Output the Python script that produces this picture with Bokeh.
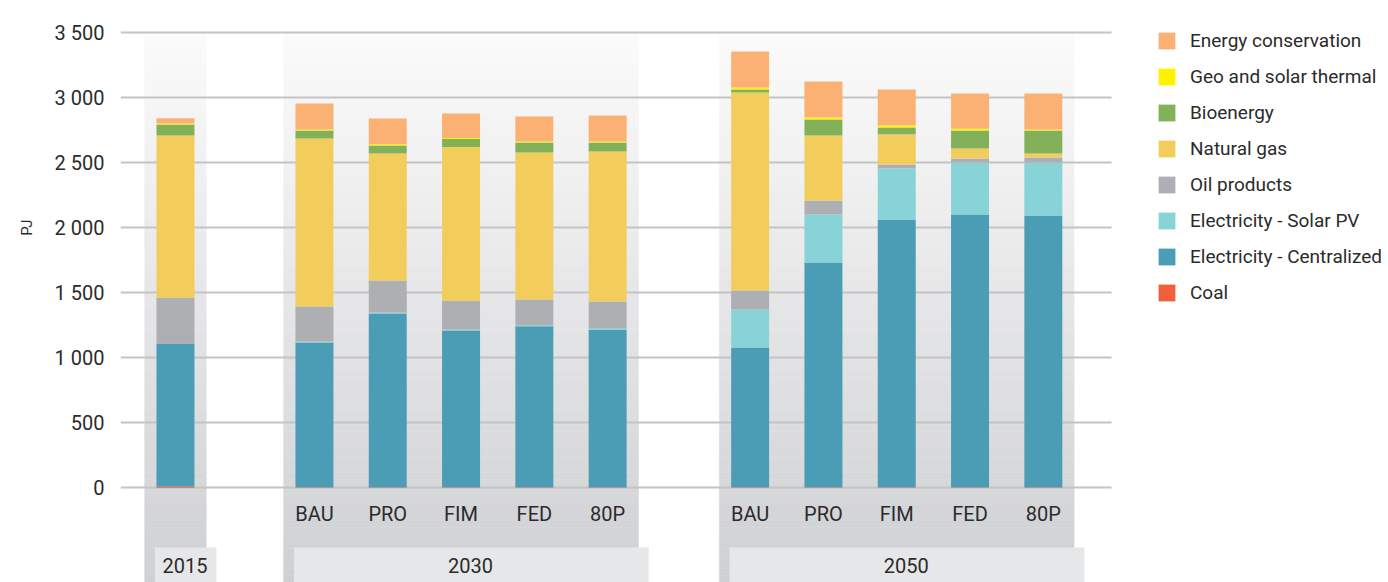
import numpy as np
from bokeh.plotting import figure
from bokeh.models import Range1d, FixedTicker, Legend, LegendItem, Title, ColumnDataSource
from bokeh.embed import file_html
from bokeh.resources import INLINE
from bokeh.core.properties import value

# ---------------- data ----------------
groups = ["2015", "2030", "2050"]
scenarios = ["BAU", "PRO", "FIM", "FED", "80P"]
cat_group = ["2015"] + ["2030"] * 5 + ["2050"] * 5
cat_label = [""] + scenarios + scenarios

coal = [10, 5, 4, 4, 4, 4, 4, 4, 4, 4, 4]
elec_central = [1100, 1112, 1336, 1205, 1238, 1211, 1074, 1728, 2058, 2097, 2089]
solar_pv = [0, 8, 8, 8, 8, 13, 292, 369, 392, 399, 407]
oil = [351, 269, 245, 223, 197, 204, 147, 107, 31, 31, 39]
gas = [1248, 1291, 977, 1179, 1131, 1153, 1522, 501, 232, 77, 31]
bio = [84, 61, 61, 62, 77, 70, 23, 122, 53, 138, 176]
geo = [7, 8, 10, 8, 8, 8, 15, 15, 15, 15, 8]
conservation = [40, 200, 198, 188, 191, 199, 277, 277, 277, 270, 277]

series_names = ["Coal", "Electricity - Centralized", "Electricity - Solar PV", "Oil products",
                "Natural gas", "Bioenergy", "Geo and solar thermal", "Energy conservation"]
series_keys = ["coal", "elec_central", "solar_pv", "oil", "gas", "bio", "geo", "conservation"]
series_colors = ["#f15f3c", "#4a9db4", "#88d3d8", "#aeafb2", "#f2cd5c", "#82b15a", "#fff200", "#fbb174"]

y_ticks = [0, 500, 1000, 1500, 2000, 2500, 3000, 3500]

# ---------------- layout helpers ----------------
group_start = {"2015": 0.0, "2030": 1.896, "2050": 7.84}
idx_in_group = []
counter = {}
for g in cat_group:
    counter[g] = counter.get(g, -1) + 1
    idx_in_group.append(counter[g])
xpos = [group_start[g] + i for g, i in zip(cat_group, idx_in_group)]

YMIN, YMAX = -728, 3746
XMIN, XMAX = -0.75, 16.549
GRID_END = 12.77
TXT = "#2b2b2b"
FONT = "Roboto"

p = figure(width=1388, height=582, output_backend="svg", toolbar_location=None,
           x_range=Range1d(XMIN, XMAX), y_range=Range1d(YMIN, YMAX),
           min_border_left=120, min_border_right=0, min_border_top=0, min_border_bottom=0,
           outline_line_color=None, background_fill_color="white", border_fill_color="white")

# background gradient panels
n_bands = 80
edges = np.linspace(3500, YMIN, n_bands + 1)
top_rgb = np.array([251, 251, 251])
bot_rgb = np.array([207, 208, 211])
for g in groups:
    gx = [x for x, cg in zip(xpos, cat_group) if cg == g]
    left, right = min(gx) - 0.42, max(gx) + 0.42
    cols = []
    for k in range(n_bands):
        f = k / (n_bands - 1)
        c = (top_rgb + (bot_rgb - top_rgb) * f).round().astype(int)
        cols.append("#%02x%02x%02x" % tuple(c))
    p.quad(left=[left] * n_bands, right=[right] * n_bands, top=edges[:-1], bottom=edges[1:],
           fill_color=cols, line_color=cols, line_width=0.5, level="image")
    # year label box
    p.quad(left=[left + 0.14], right=[right + 0.14], top=[-459], bottom=[YMIN],
           fill_color="#e6e7e8", line_color=None, level="image")
    p.text(x=[(left + right) / 2 + 0.13], y=[-597], text=[g], text_align="center",
           text_baseline="middle", text_font=value(FONT), text_font_size="20px", text_color=TXT)

# white mask so the grid stops before the legend area
p.quad(left=[GRID_END], right=[XMAX + 1], top=[YMAX + 100], bottom=[YMIN - 100],
       fill_color="white", line_color=None)

# stacked bars
data = dict(x=xpos, coal=coal, elec_central=elec_central, solar_pv=solar_pv, oil=oil,
            gas=gas, bio=bio, geo=geo, conservation=conservation)
src = ColumnDataSource(data)
rends = p.vbar_stack(series_keys, x="x", width=0.518, color=series_colors, source=src, line_color=None)

# scenario labels
lab_x = [x for x, l in zip(xpos, cat_label) if l]
lab_t = [l for l in cat_label if l]
p.text(x=lab_x, y=[-205] * len(lab_x), text=lab_t, text_align="center", text_baseline="middle",
       text_font=value(FONT), text_font_size="20px", text_color=TXT)

# axes and grid
p.xaxis.visible = False
p.xgrid.visible = False
p.yaxis.ticker = FixedTicker(ticks=y_ticks)
p.ygrid.ticker = FixedTicker(ticks=y_ticks)
p.yaxis.major_label_overrides = {t: f"{t:,}".replace(",", " ") for t in y_ticks}
p.yaxis.axis_line_color = None
p.yaxis.major_tick_line_color = None
p.yaxis.minor_tick_line_color = None
p.yaxis.major_tick_out = 0
p.yaxis.major_label_standoff = 16
p.yaxis.major_label_text_font = FONT
p.yaxis.major_label_text_font_size = "20px"
p.yaxis.major_label_text_color = TXT
p.ygrid.grid_line_color = "#c4c4c4"
p.ygrid.grid_line_width = 2

p.add_layout(Title(text="PJ", align="right", offset=219, vertical_align="top", standoff=28,
                   text_font=FONT, text_font_size="15px", text_font_style="normal",
                   text_color=TXT), "left")

items = [LegendItem(label=n, renderers=[r]) for n, r in zip(series_names, rends)][::-1]
legend = Legend(items=items, location=(1036, 278), orientation="vertical",
                label_text_font=FONT, label_text_font_size="19px", label_text_color=TXT,
                glyph_width=21, glyph_height=21, label_height=24, label_standoff=13,
                spacing=12, padding=0, margin=0, border_line_color=None,
                background_fill_alpha=0)
p.add_layout(legend)

open("out.html", "w").write(file_html(p, INLINE))
